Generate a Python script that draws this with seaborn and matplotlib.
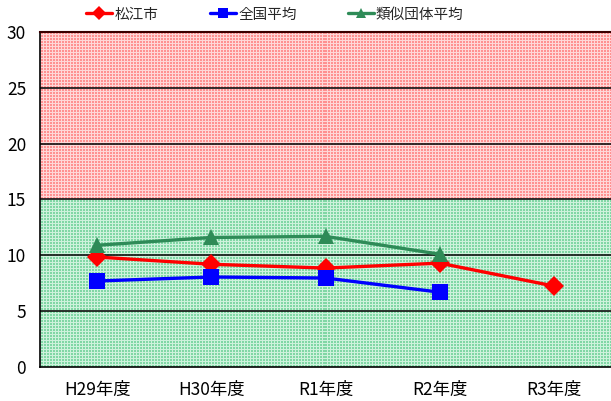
import numpy as np
import pandas as pd
import matplotlib
matplotlib.use("Agg")
import matplotlib.pyplot as plt
from matplotlib.lines import Line2D
import seaborn as sns

years = ["H29年度", "H30年度", "R1年度", "R2年度", "R3年度"]
matsue = [9.85, 9.2, 8.86, 9.3, 7.25]
national = [7.7, 8.06, 7.97, 6.7, np.nan]
similar = [10.9, 11.6, 11.7, 10.1, np.nan]
series_names = ["松江市", "全国平均", "類似団体平均"]
y_ticks = [0, 5, 10, 15, 20, 25, 30]

sns.set_theme(style="white")
plt.rcParams["font.family"] = ["Noto Sans CJK JP", "DejaVu Sans"]

rows = []
for name, vals in zip(series_names, [matsue, national, similar]):
    for i, (yr, v) in enumerate(zip(years, vals)):
        if not np.isnan(v):
            rows.append({"year": yr, "x": i, "value": v, "series": name})
df = pd.DataFrame(rows)

fig = plt.figure(figsize=(6.11, 4.01), dpi=100)
ax = fig.add_axes([40 / 611, 1 - 367 / 401, 1 - 40 / 611, (367 - 32) / 401])

# checkered band backgrounds (green below 15, red above)
def checker(h, w, dark, light, period=3):
    img = np.ones((h, w, 3)) * np.array(dark) / 255
    yy, xx = np.mgrid[0:h, 0:w]
    mask = (yy % period == 0) | (xx % period == 0)
    img[mask] = np.array(light) / 255
    return img

h_each = 168
ax.imshow(checker(h_each, 572, (255, 145, 145), (255, 215, 215)),
          extent=(-0.5, 4.5, 15, 30), aspect="auto", interpolation="nearest", zorder=0)
ax.imshow(checker(h_each, 572, (128, 215, 165), (205, 242, 220)),
          extent=(-0.5, 4.5, 0, 15), aspect="auto", interpolation="nearest", zorder=0)

palette = {"松江市": "#ff0000", "全国平均": "#0000ff", "類似団体平均": "#2e8b57"}
markers = {"松江市": "D", "全国平均": "s", "類似団体平均": "^"}
sizes_m = {"松江市": 10, "全国平均": 11.5, "類似団体平均": 11}

for name in series_names:
    sub = df[df["series"] == name]
    sns.lineplot(data=sub, x="x", y="value", color=palette[name], marker=markers[name],
                 markersize=sizes_m[name], markeredgewidth=0, linewidth=2.4,
                 ax=ax, legend=False, zorder=3)

ax.set_xlim(-0.5, 4.5)
ax.set_ylim(0, 30)
ax.set_yticks(y_ticks)
ax.set_yticklabels([str(t) for t in y_ticks], fontsize=12.5, color="#000000")
for t in y_ticks[1:-1]:
    ax.axhline(t, color="#111111", linewidth=1.2, zorder=1)

ax.set_xticks(range(len(years)))
ax.set_xticklabels(years, fontsize=12.5, color="#000000")
ax.set_xticks([0.5, 1.5, 2.5, 3.5], minor=True)
ax.tick_params(axis="x", which="major", length=0, pad=10)
ax.tick_params(axis="x", which="minor", direction="in", length=4, width=1.2, color="#000000")
ax.tick_params(axis="y", length=0, pad=10)
ax.set_xlabel("")
ax.set_ylabel("")

for side in ["left", "bottom"]:
    ax.spines[side].set_color("#000000")
    ax.spines[side].set_linewidth(1.2)
ax.spines["top"].set_color("#3a0000")
ax.spines["top"].set_linewidth(1.5)
ax.spines["right"].set_visible(False)

handles = [Line2D([], [], color=palette[n], marker=markers[n], markersize=7,
                  markeredgewidth=0, linewidth=2.4) for n in series_names]
fig.legend(handles, series_names, loc="center", bbox_to_anchor=(0.45, 1 - 14.5 / 401),
           ncol=3, frameon=False, fontsize=10.5, handlelength=1.8, columnspacing=3.5,
           handletextpad=0.15)

fig.savefig("out.png", dpi=100)
